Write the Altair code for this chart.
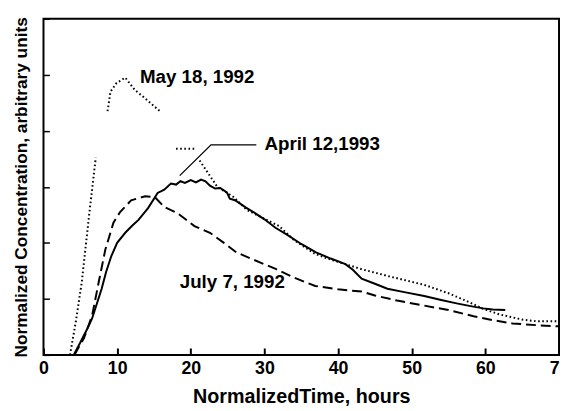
import altair as alt
import pandas as pd

# ---- data ----
april_x = [4.1, 5.0, 6.0, 6.6, 7.9, 8.5, 9.2, 10.0, 11.1, 12.0, 12.9, 14.2, 15.5, 16.4, 17.3, 18.0, 18.6, 19.2, 20.0,
           20.7, 21.4, 22.0, 22.6, 23.3, 24.0, 24.9, 25.3, 26.0, 26.6, 27.5, 28.5, 30.0, 31.5, 33.0, 35.0, 37.0,
           39.0, 41.0, 42.0, 43.2, 45.0, 46.7, 49.0, 51.7, 54.0, 56.1, 58.0, 59.7, 61.0, 62.7]
april_y = [0.0, 0.22, 0.48, 0.65, 1.18, 1.48, 1.76, 2.0, 2.18, 2.3, 2.41, 2.62, 2.89, 2.95, 3.06, 3.04, 3.1, 3.07, 3.12,
           3.08, 3.13, 3.1, 3.02, 2.97, 2.98, 2.9, 2.79, 2.76, 2.71, 2.63, 2.55, 2.42, 2.27, 2.15, 1.98, 1.83,
           1.72, 1.62, 1.52, 1.36, 1.27, 1.18, 1.12, 1.05, 0.98, 0.92, 0.87, 0.83, 0.81, 0.8]

july_x = [4.2, 5.5, 6.6, 7.5, 8.4, 9.5, 10.4, 11.9, 13.8, 15.1, 16.4, 18.2, 20.5, 22.6, 24.5, 26.2, 28.5, 31.6, 34.0,
          36.9, 40.0, 43.2, 45.0, 48.0, 51.7, 55.0, 58.4, 61.0, 63.7, 67.0, 70.0]
july_y = [0.0, 0.3, 0.7, 1.3, 1.88, 2.36, 2.55, 2.76, 2.83, 2.82, 2.64, 2.53, 2.3, 2.18, 2.0, 1.83, 1.7, 1.53, 1.38,
          1.23, 1.17, 1.13, 1.06, 0.97, 0.88, 0.8, 0.69, 0.62, 0.56, 0.53, 0.51]

# May 18, 1992 curve is broken into pieces in the original figure
may_pieces = {
    "a": ([3.6, 4.4, 5.2, 6.2, 7.1], [0.0, 0.6, 1.3, 2.5, 3.52]),
    "b": ([8.7, 9.1, 9.9, 10.5, 11.1, 12.4, 13.8, 15.8], [4.35, 4.7, 4.85, 4.9, 4.95, 4.73, 4.58, 4.35]),
    "c": ([18.0, 20.5], [3.68, 3.68]),
    "d": ([21.2, 23.6, 25.8, 27.6, 30.3, 32.0, 34.0, 36.9, 39.0, 43.2, 47.0, 51.7, 55.0, 58.0, 59.7, 62.0, 65.0,
           67.0, 70.0],
          [3.47, 3.0, 2.82, 2.59, 2.41, 2.3, 2.05, 1.8, 1.7, 1.53, 1.4, 1.25, 1.1, 0.93, 0.82, 0.72, 0.63, 0.6, 0.6]),
}

leader_x = [18.5, 22.75, 28.9]
leader_y = [3.2, 3.75, 3.75]

label_text = ["May 18, 1992", "April 12,1993", "July 7, 1992"]
label_x = [13.1, 30.0, 18.5]
label_y = [4.96, 3.77, 1.30]

x_ticks = [0, 10, 20, 30, 40, 50, 60, 70]
y_ticks = [0, 1, 2, 3, 4, 5, 6]

# ---- tables ----
april_df = pd.DataFrame({"x": april_x, "y": april_y})
july_df = pd.DataFrame({"x": july_x, "y": july_y})
may_rows = []
for k, (xs, ys) in may_pieces.items():
    for i, (a, b) in enumerate(zip(xs, ys)):
        may_rows.append({"x": a, "y": b, "piece": k, "order": i})
may_df = pd.DataFrame(may_rows)
leader_df = pd.DataFrame({"x": leader_x, "y": leader_y, "o": range(len(leader_x))})
label_df = pd.DataFrame({"t": label_text, "x": label_x, "y": label_y})

FONT = "Liberation Sans"

xs = alt.Scale(domain=[0, 70], nice=False, zero=False)
ys = alt.Scale(domain=[0, 6], nice=False, zero=False)

x_axis = alt.Axis(values=x_ticks, title="NormalizedTime, hours", grid=False, domain=False,
                  offset=-7, tickSize=7, tickWidth=2, tickColor="black",
                  labelPadding=5, labelFontSize=18, labelFont=FONT, labelFontWeight="bold",
                  labelColor="black", labelFlush=False,
                  titleFontSize=20, titleFont=FONT, titleFontWeight="bold", titleColor="black",
                  titlePadding=9)
y_axis = alt.Axis(values=y_ticks, title="Normalized Concentration, arbitrary units", grid=False,
                  domain=False, labels=False, offset=-6, tickSize=6, tickWidth=1.5, tickColor="black",
                  titleFontSize=17.5, titleFont=FONT, titleFontWeight="bold", titleColor="black",
                  titlePadding=12)

april = alt.Chart(april_df).mark_line(color="black", strokeWidth=2).encode(
    x=alt.X("x:Q", scale=xs, axis=x_axis),
    y=alt.Y("y:Q", scale=ys, axis=y_axis),
)
july = alt.Chart(july_df).mark_line(color="black", strokeWidth=2, strokeDash=[10, 5]).encode(
    x=alt.X("x:Q", scale=xs),
    y=alt.Y("y:Q", scale=ys),
)
may = alt.Chart(may_df).mark_line(color="black", strokeWidth=2, strokeDash=[1.6, 2.6]).encode(
    x=alt.X("x:Q", scale=xs),
    y=alt.Y("y:Q", scale=ys),
    detail="piece:N",
    order="order:Q",
)
leader = alt.Chart(leader_df).mark_line(color="black", strokeWidth=1.3).encode(
    x=alt.X("x:Q", scale=xs),
    y=alt.Y("y:Q", scale=ys),
    order="o:Q",
)
labels = alt.Chart(label_df).mark_text(align="left", baseline="middle", font=FONT, fontWeight="bold",
                                       fontSize=19, color="black").encode(
    x=alt.X("x:Q", scale=xs),
    y=alt.Y("y:Q", scale=ys),
    text="t:N",
)

chart = alt.layer(april, july, may, leader, labels).properties(
    width=523, height=341,
    padding={"left": 36, "top": 8, "right": 1, "bottom": 54},
    autosize=alt.AutoSizeParams(type="none"),
    background="white",
).configure_view(stroke="black", strokeWidth=2)

chart.save("out.html", embed_options={"renderer": "svg", "actions": False})
